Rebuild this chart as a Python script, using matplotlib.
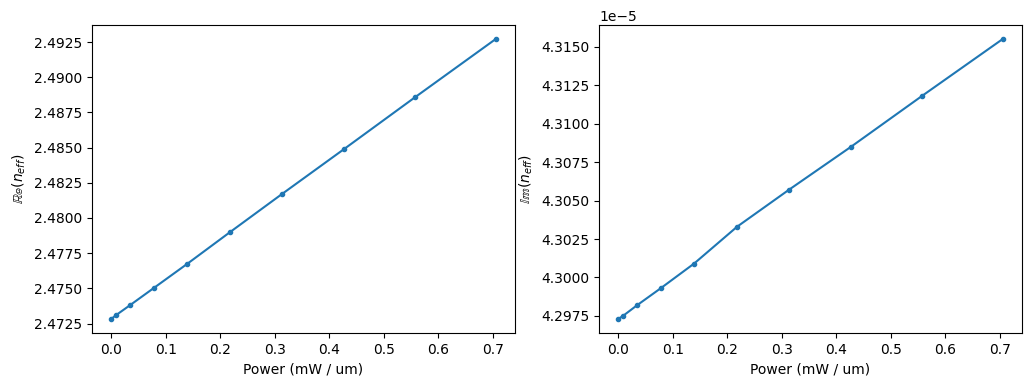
import matplotlib
matplotlib.use("Agg")
import matplotlib.pyplot as plt

power = [0.0, 0.0087, 0.0348, 0.078, 0.139, 0.218, 0.313, 0.427, 0.557, 0.705]
re_neff = [2.47282, 2.47309, 2.47381, 2.47502, 2.47673, 2.47900, 2.48170, 2.48490, 2.48858, 2.49272]
im_neff = [4.2973e-5, 4.2975e-5, 4.2982e-5, 4.2993e-5, 4.3009e-5, 4.3033e-5, 4.3057e-5, 4.3085e-5, 4.3118e-5, 4.3155e-5]

fig, (ax1, ax2) = plt.subplots(1, 2, figsize=(10.3, 3.86), dpi=100)
ax1.plot(power, re_neff, marker='.')
ax1.set_xlabel('Power (mW / um)')
ax1.set_ylabel(r'$\mathbb{Re}(n_{eff})$')
ax2.plot(power, im_neff, marker='.')
ax2.set_xlabel('Power (mW / um)')
ax2.set_ylabel(r'$\mathbb{Im}(n_{eff})$')
fig.subplots_adjust(left=0.0893, right=0.9922, bottom=0.1373, top=0.9352, wspace=0.1986)
fig.savefig('out.png', dpi=100)
